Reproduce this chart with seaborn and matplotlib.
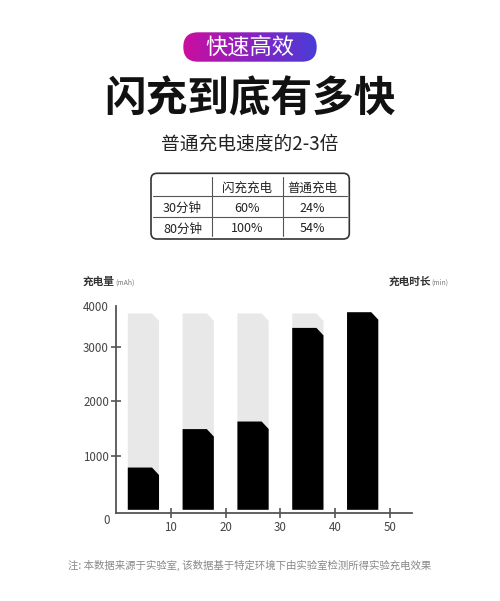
import numpy as np
import pandas as pd
import seaborn as sns
import matplotlib.pyplot as plt
from matplotlib.patches import FancyBboxPatch, Polygon
from matplotlib.colors import LinearSegmentedColormap

# chart data
minutes = [5, 15, 25, 35, 45]
full_capacity = [3820, 3820, 3820, 3820, 3820]
charged = [780, 1490, 1630, 3470, 3850]
x_ticks = [10, 20, 30, 40, 50]
y_ticks = [1000, 2000, 3000, 4000]

# table data
table_cols = ["", "闪充充电", "普通充电"]
table_rows = ["30分钟", "80分钟"]
flash_pct = ["60%", "100%"]
normal_pct = ["24%", "54%"]

K = 0.763  # the picture squeezes the range above 3000


def fwd(y):
    y = np.asarray(y, dtype=float)
    return np.where(y <= 3000, y, 3000 + (y - 3000) * K)


def inv(t):
    t = np.asarray(t, dtype=float)
    return np.where(t <= 3000, t, 3000 + (t - 3000) / K)


def chamfer_bars(ax, dx=7, dy=7.5):
    # swap the seaborn rectangles for ones with a cut top-right corner
    rects = list(ax.patches)
    for r in rects:
        x0, y0, w, h = r.get_x(), r.get_y(), r.get_width(), r.get_height()
        (px0, py0), (px1, py1) = ax.transData.transform([(x0, y0), (x0 + w, y0 + h)])
        pts = [(px0, py0), (px1, py0), (px1, py1 - dy), (px1 - dx, py1), (px0, py1)]
        pts = ax.transData.inverted().transform(pts)
        ax.add_patch(Polygon(pts, closed=True, facecolor=r.get_facecolor(),
                             edgecolor="none", zorder=r.get_zorder()))
        r.remove()


def main():
    sns.set_theme(style="white")
    plt.rcParams["font.family"] = ["Noto Sans CJK SC", "DejaVu Sans"]

    fig = plt.figure(figsize=(5, 6.01), dpi=100)
    fig.patch.set_facecolor("white")

    # ---- bar chart ----
    ax = fig.add_axes([116 / 500, 1 - 512.5 / 601, 296 / 500, 206.5 / 601])
    df = pd.DataFrame({"minutes": minutes, "full": full_capacity, "charged": charged})
    ax.set_yscale("function", functions=(fwd, inv))
    sns.barplot(data=df, x="minutes", y="full", native_scale=True, width=0.57,
                color="#e8e8e8", saturation=1, ax=ax, zorder=2)
    sns.barplot(data=df, x="minutes", y="charged", native_scale=True, width=0.57,
                color="black", saturation=1, ax=ax, zorder=3)
    ax.set_xlim(0, 54)
    ax.set_ylim(-50, 4000)
    ax.set_xlabel("")
    ax.set_ylabel("")
    ax.set_xticks(x_ticks)
    ax.set_yticks(y_ticks)
    ax.tick_params(axis="both", direction="inout", color="#555555", width=1.2,
                   labelsize=8.3, labelcolor="#444444", bottom=True, left=True)
    ax.tick_params(axis="x", length=6.5, pad=3)
    ax.tick_params(axis="y", length=7, pad=1.5)
    ax.yaxis.get_major_ticks()[-1].tick1line.set_visible(False)
    for s in ["top", "right"]:
        ax.spines[s].set_visible(False)
    for s in ["left", "bottom"]:
        ax.spines[s].set_color("#555555")
        ax.spines[s].set_linewidth(1.3)
    ax.set_facecolor("none")
    chamfer_bars(ax)

    # ---- overlay in pixel coordinates for the header and notes ----
    top = fig.add_axes([0, 0, 1, 1], zorder=5)
    top.set_xlim(0, 500)
    top.set_ylim(601, 0)
    top.axis("off")
    top.patch.set_alpha(0)

    # gradient pill
    pill = FancyBboxPatch((183.3, 32.3), 133.4, 29.4,
                          boxstyle="round,pad=0,rounding_size=14.7",
                          transform=top.transData, facecolor="none", edgecolor="none")
    top.add_patch(pill)
    cmap = LinearSegmentedColormap.from_list("pill", ["#cc0e9e", "#8a22c0", "#4a3cd8"])
    im = top.imshow(np.linspace(0, 1, 256).reshape(1, -1), cmap=cmap, aspect="auto",
                    extent=(183.3, 316.7, 61.7, 32.3), interpolation="bicubic")
    im.set_clip_path(pill)
    top.set_xlim(0, 500)
    top.set_ylim(601, 0)
    top.text(250, 47, "快速高效", color="white", fontsize=16, ha="center", va="center")

    top.text(250, 100, "闪充到底有多快", color="#111111", fontsize=30,
             fontweight="black", ha="center", va="center")
    top.text(250, 144, "普通充电速度的2-3倍", color="#222222", fontsize=13.5,
             ha="center", va="center")

    # table
    top.add_patch(FancyBboxPatch((151, 173.3), 198.3, 65.7,
                                 boxstyle="round,pad=0,rounding_size=6",
                                 facecolor="white", edgecolor="#333333", linewidth=1.2))
    for yy in [195.7, 217.3]:
        top.plot([153, 347], [yy, yy], color="#555555", linewidth=0.8)
    for xx in [211.7, 282.7]:
        top.plot([xx, xx], [176.7, 235.5], color="#555555", linewidth=0.8)
    col_x = [182.5, 247, 312]
    row_y = [188.3, 208.3, 229]
    for cx, label in zip(col_x, table_cols):
        top.text(cx, row_y[0], label, fontsize=9, color="#222222", ha="center", va="center")
    for ry, rlab, fp, npct in zip(row_y[1:], table_rows, flash_pct, normal_pct):
        top.text(col_x[0], ry, rlab, fontsize=9, color="#222222", ha="center", va="center")
        top.text(col_x[1], ry, fp, fontsize=9, color="#222222", ha="center", va="center")
        top.text(col_x[2], ry, npct, fontsize=9, color="#222222", ha="center", va="center")

    # axis titles
    top.text(82.3, 282, "充电量", fontsize=7.7, fontweight="bold", color="#333333",
             ha="left", va="center")
    top.text(115, 283, "(mAh)", fontsize=5, color="#777777", ha="left", va="center")
    top.text(388.3, 282, "充电时长", fontsize=7.7, fontweight="bold", color="#333333",
             ha="left", va="center")
    top.text(431.5, 283, "(min)", fontsize=5, color="#777777", ha="left", va="center")
    top.text(107, 520.5, "0", fontsize=8.3, color="#444444", ha="center", va="center")

    top.text(250, 565, "注: 本数据来源于实验室, 该数据基于特定环境下由实验室检测所得实验充电效果",
             fontsize=7.5, color="#888888", ha="center", va="center")

    fig.savefig("out.png", dpi=100, facecolor="white")


if __name__ == "__main__":
    main()
